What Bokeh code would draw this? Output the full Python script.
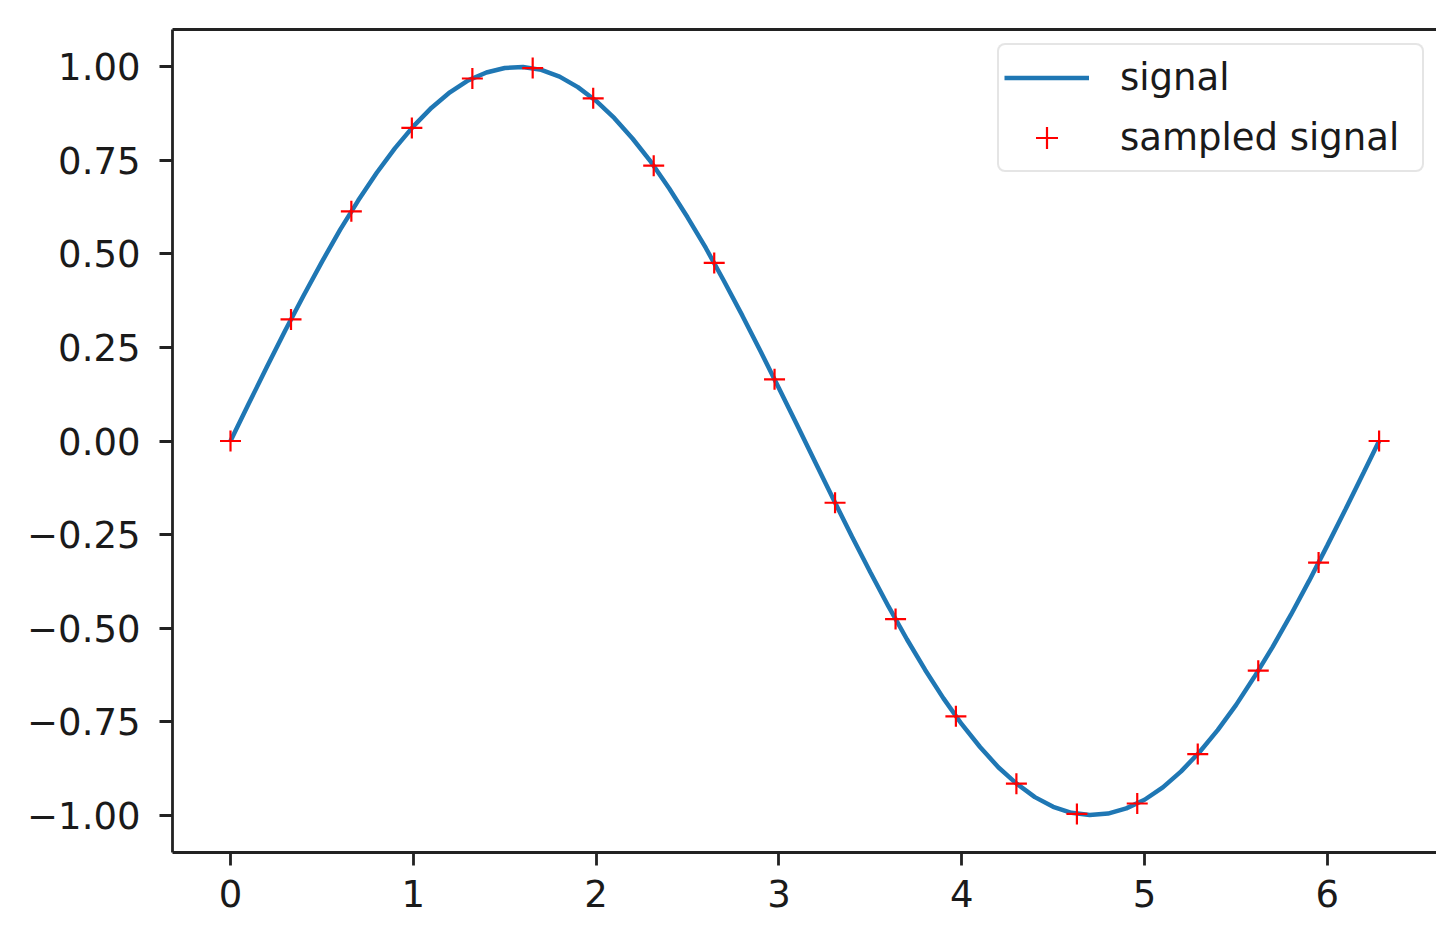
from bokeh.plotting import figure
from bokeh.models import Range1d, FixedTicker, CustomJSTickFormatter, LinearAxis, Legend
from bokeh.embed import file_html
from bokeh.resources import INLINE

# continuous signal
signal_x = [0.0, 0.1, 0.2, 0.3, 0.4, 0.5, 0.6, 0.7, 0.8, 0.9, 1.0, 1.1, 1.2, 1.3, 1.4, 1.5,
            1.6, 1.7, 1.8, 1.9, 2.0, 2.1, 2.2, 2.3, 2.4, 2.5, 2.6, 2.7, 2.8, 2.9, 3.0, 3.1,
            3.2, 3.3, 3.4, 3.5, 3.6, 3.7, 3.8, 3.9, 4.0, 4.1, 4.2, 4.3, 4.4, 4.5, 4.6, 4.7,
            4.8, 4.9, 5.0, 5.1, 5.2, 5.3, 5.4, 5.5, 5.6, 5.7, 5.8, 5.9, 6.0, 6.1, 6.2, 6.283]
signal_y = [0.000, 0.100, 0.199, 0.296, 0.389, 0.479, 0.565, 0.644, 0.717, 0.783, 0.841,
            0.891, 0.932, 0.964, 0.985, 0.997, 1.000, 0.992, 0.974, 0.946, 0.909, 0.863,
            0.808, 0.746, 0.675, 0.598, 0.516, 0.427, 0.335, 0.239, 0.141, 0.042, -0.058,
            -0.158, -0.256, -0.351, -0.443, -0.530, -0.612, -0.688, -0.757, -0.818, -0.872,
            -0.916, -0.952, -0.978, -0.994, -1.000, -0.996, -0.982, -0.959, -0.926, -0.883,
            -0.832, -0.773, -0.706, -0.631, -0.551, -0.465, -0.374, -0.279, -0.182, -0.083,
            0.000]

# sampled points
sample_x = [0.0, 0.331, 0.661, 0.992, 1.323, 1.653, 1.984, 2.315, 2.646, 2.976,
            3.307, 3.638, 3.968, 4.299, 4.630, 4.960, 5.291, 5.622, 5.952, 6.283]
sample_y = [0.0, 0.325, 0.614, 0.837, 0.969, 0.997, 0.916, 0.736, 0.476, 0.165,
            -0.165, -0.476, -0.736, -0.916, -0.997, -0.969, -0.837, -0.614, -0.325, 0.0]

x_ticks = [0, 1, 2, 3, 4, 5, 6]
y_ticks = [-1.0, -0.75, -0.5, -0.25, 0.0, 0.25, 0.5, 0.75, 1.0]

FONT = "DejaVu Sans"
AX = "#222222"
FS = "37px"

p = figure(width=1436, height=930, output_backend="svg", toolbar_location=None,
           x_range=Range1d(-0.3173, 6.597), y_range=Range1d(-1.1, 1.1),
           min_border_left=172, min_border_top=29, min_border_bottom=78, min_border_right=0)
p.outline_line_color = None
p.xgrid.visible = False
p.ygrid.visible = False
p.background_fill_color = "white"
p.border_fill_color = "white"

p.line(signal_x, signal_y, line_color="#1f77b4", line_width=4.5, legend_label="signal")
p.scatter(sample_x, sample_y, marker="cross", size=21, line_color="#ff0000", line_width=2.2,
          legend_label="sampled signal")

for ax in (p.xaxis[0], p.yaxis[0]):
    ax.axis_line_color = AX
    ax.axis_line_width = 2.8
    ax.major_tick_line_color = AX
    ax.major_tick_line_width = 2.8
    ax.major_tick_out = 13
    ax.major_tick_in = 0
    ax.minor_tick_line_color = None
    ax.major_label_text_font = FONT
    ax.major_label_text_font_size = FS
    ax.major_label_text_color = "#1a1a1a"

p.xaxis[0].ticker = FixedTicker(ticks=x_ticks)
p.xaxis[0].major_label_standoff = 14
p.yaxis[0].ticker = FixedTicker(ticks=y_ticks)
p.yaxis[0].major_label_standoff = 19
p.yaxis[0].formatter = CustomJSTickFormatter(code="return tick.toFixed(2).replace('-', '\\u2212');")
p.xaxis[0].formatter = CustomJSTickFormatter(code="return tick.toFixed(0).replace('-', '\\u2212');")

top = LinearAxis(ticker=FixedTicker(ticks=[]), major_label_text_font_size="0px",
                 axis_line_color=AX, axis_line_width=2.8,
                 major_tick_line_color=None, minor_tick_line_color=None)
p.add_layout(top, "above")

lg = p.legend[0]
lg.location = (825, 680)
lg.label_text_font = FONT
lg.label_text_font_size = FS
lg.label_text_color = "#1a1a1a"
lg.glyph_width = 85
lg.glyph_height = 55
lg.label_height = 55
lg.label_width = 297
lg.label_standoff = 31
lg.padding = 5
lg.spacing = 5
lg.margin = 0
lg.border_line_color = "#cccccc"
lg.border_line_width = 2.5
lg.background_fill_color = "white"
lg.background_fill_alpha = 0.8
if "border_radius" in Legend.properties():
    lg.border_radius = 8

open("out.html", "w").write(file_html(p, INLINE))
